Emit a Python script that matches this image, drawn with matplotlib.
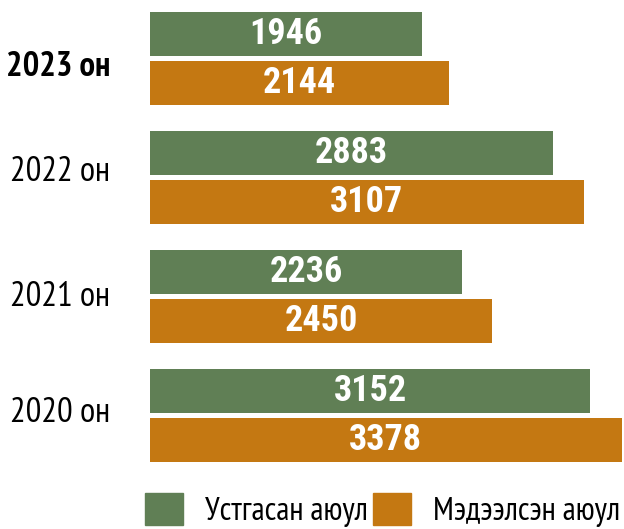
import matplotlib
matplotlib.use("Agg")
import matplotlib.pyplot as plt
from matplotlib.patches import Patch

years = ["2023 он", "2022 он", "2021 он", "2020 он"]
removed = [1946, 2883, 2236, 3152]      # Устгасан аюул
reported = [2144, 3107, 2450, 3378]     # Мэдээлсэн аюул
series_names = ["Устгасан аюул", "Мэдээлсэн аюул"]

GREEN = "#607f55"
ORANGE = "#c47812"
BOLD_FONT = ["Roboto Condensed", "PT Sans Narrow", "DejaVu Sans"]
TEXT_FONT = ["PT Sans Narrow", "Roboto Condensed", "DejaVu Sans"]
plt.rcParams["font.family"] = TEXT_FONT

W, H = 624, 529
fig = plt.figure(figsize=(W / 100, H / 100), dpi=100)
ax = fig.add_axes([150 / W, 0, 1 - 150 / W, 1])

ypos = list(range(len(years)))
off = 0.206
bh = 0.37
b1 = ax.barh([y - off for y in ypos], removed, height=bh, color=GREEN)
b2 = ax.barh([y + off for y in ypos], reported, height=bh, color=ORANGE)
for bars in (b1, b2):
    ax.bar_label(bars, label_type="center", color="white", fontsize=26,
                 fontweight="bold", family=BOLD_FONT)

ax.set_xlim(0, 3395)
ax.set_ylim((529 - 58.5) / 119, -58.5 / 119)
ax.set_yticks([])
ax.set_xticks([])
for s in ax.spines.values():
    s.set_visible(False)

# year labels (slight per-row vertical shifts as in the reference layout)
label_shift_px = [4.5, -9.5, -2.5, -6.5]
for i, (yr, dy) in enumerate(zip(years, label_shift_px)):
    ax.annotate(yr, xy=(0, ypos[i]), xycoords=("axes fraction", "data"),
                xytext=(-40, -dy), textcoords="offset pixels",
                ha="right", va="center_baseline", fontsize=25,
                family=TEXT_FONT, fontweight="bold" if i == 0 else "normal",
                annotation_clip=False)

handles = [Patch(color=GREEN), Patch(color=ORANGE)]
fig.legend(handles, series_names, ncol=2, frameon=False,
           prop={"family": TEXT_FONT, "size": 23.5},
           handlelength=1.16, handleheight=1.13, handletextpad=0.68,
           columnspacing=0.15, borderpad=0, borderaxespad=0,
           loc="lower left", bbox_to_anchor=(145 / W, 2 / H))

fig.savefig("out.png", dpi=100)
